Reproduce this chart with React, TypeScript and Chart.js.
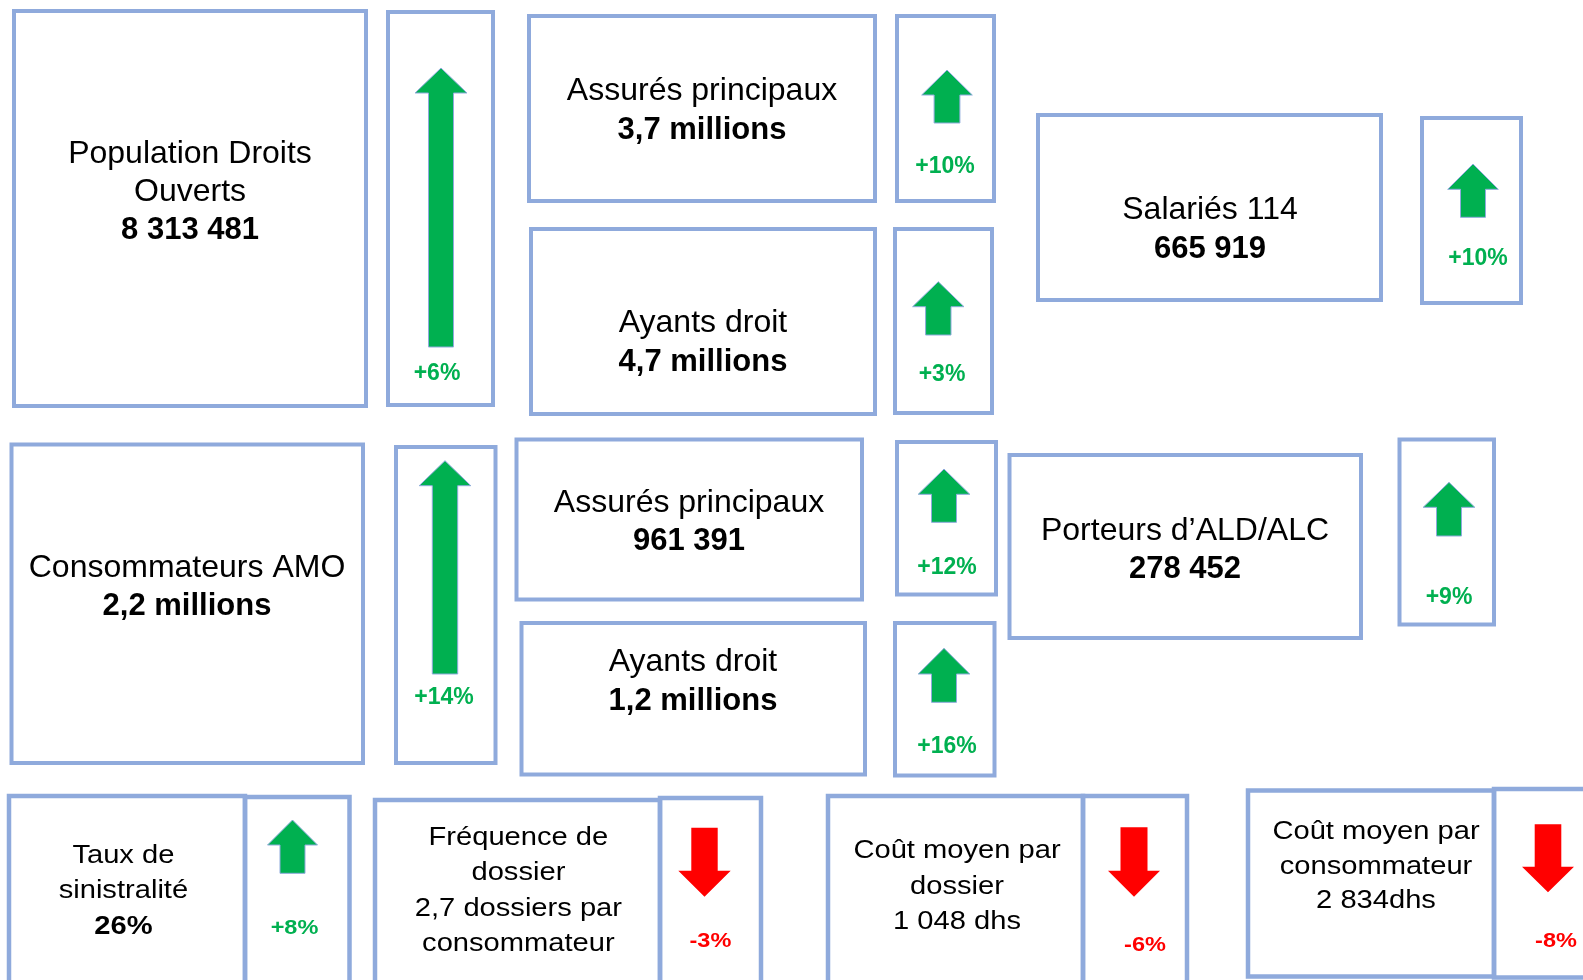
import React, { useEffect, useRef } from "react";
import { Chart, registerables } from "chart.js";

Chart.register(...registerables);

// ---------- DATA ----------
const cardTitles: string[][] = [
  ["Population Droits", "Ouverts"],
  ["Assurés principaux"],
  ["Ayants droit"],
  ["Salariés 114"],
  ["Consommateurs AMO"],
  ["Assurés principaux"],
  ["Ayants droit"],
  ["Porteurs d’ALD/ALC"],
  ["Taux de", "sinistralité"],
  ["Fréquence de", "dossier"],
  ["Coût moyen par", "dossier"],
  ["Coût moyen par", "consommateur"],
];

const cardValues: string[] = [
  "8 313 481",
  "3,7 millions",
  "4,7 millions",
  "665 919",
  "2,2 millions",
  "961 391",
  "1,2 millions",
  "278 452",
  "26%",
  "2,7 dossiers par\nconsommateur",
  "1 048 dhs",
  "2 834dhs",
];

const valueIsBold: boolean[] = [true, true, true, true, true, true, true, true, true, false, false, false];

const changes: number[] = [6, 10, 3, 10, 14, 12, 16, 9, 8, -3, -6, -8];

// ---------- LAYOUT (kept apart from the data) ----------
const cardBoxes: number[][] = [
  [14, 11, 366, 406],
  [529, 16, 875, 201],
  [531, 229, 875, 414],
  [1038, 115, 1381, 300],
  [11.5, 444.5, 363, 763],
  [516.5, 439.5, 862, 599.5],
  [521.5, 623, 865, 774.5],
  [1009.5, 455, 1361, 638],
  [9, 796, 245, 1000],
  [375, 800, 660, 1000],
  [828, 796, 1083, 1000],
  [1248, 790.5, 1494, 976.5],
];

const changeBoxes: number[][] = [
  [388, 12, 493, 405],
  [897, 16, 994, 201],
  [895, 229, 992, 413],
  [1422, 118, 1521, 303],
  [396, 447, 495.5, 763],
  [897, 442, 996, 594.5],
  [895, 623, 994.5, 775.5],
  [1399.5, 439.5, 1494, 624.5],
  [245, 797, 349.5, 1000],
  [660, 798, 761, 1000],
  [1083, 796, 1187, 1000],
  [1494, 789, 1600, 977.5],
];

// [centerX, firstBaseline, lineHeight]
const textAnchors: number[][] = [
  [190, 163, 38],
  [702, 100, 39],
  [703, 332, 39],
  [1210, 219, 38.5],
  [187, 577, 38],
  [689, 512, 38],
  [693, 671, 39],
  [1185, 540, 38.3],
  [123.4, 863, 35.3],
  [518.4, 845, 35.3],
  [957, 858, 35.5],
  [1376, 839, 34.7],
];

// [centerX, tailY, headBaseY, tipY, headHalfWidth, shaftHalfWidth]
const arrowGeoms: number[][] = [
  [441, 347, 93, 68, 26, 12.5],
  [947, 123, 95, 70, 25.3, 12.9],
  [938.3, 335, 306.7, 281.7, 25.7, 12.7],
  [1473, 217.3, 189.3, 164, 25.3, 12.5],
  [445, 674, 485.7, 460.7, 25.8, 12.7],
  [944, 522.3, 494.3, 469, 25.8, 12.5],
  [944, 702.3, 674, 648.3, 25.8, 12.5],
  [1449, 536, 507.3, 482.3, 25.8, 12.5],
  [292.5, 873.3, 845, 820, 25, 12.5],
  [704.5, 827.7, 870.7, 896.7, 26.2, 13.2],
  [1134, 827.3, 870.7, 896.7, 26, 13.5],
  [1548, 824.3, 866.7, 892.3, 26, 13.3],
];

// [centerX, baseline]
const labelAnchors: number[][] = [
  [437, 380],
  [945, 172.7],
  [942, 380.7],
  [1478, 265],
  [444, 704],
  [947, 574],
  [947, 753.3],
  [1449, 604],
  [294.5, 934],
  [710.4, 946.7],
  [1145, 950.7],
  [1556, 946.7],
];

const BORDER = "#8FAADC";
const UP = "#00B050";
const DOWN = "#FF0000";
const FONT = "'Liberation Sans', Arial, sans-serif";

const kpiPlugin = {
  id: "kpiCards",
  afterDraw(chart: any) {
    const ctx: CanvasRenderingContext2D = chart.ctx;
    const xs = chart.scales.x;
    const ys = chart.scales.y;
    const px = (v: number) => xs.getPixelForValue(v);
    const py = (v: number) => ys.getPixelForValue(v);

    const rect = (r: number[], lw: number) => {
      ctx.save();
      ctx.strokeStyle = BORDER;
      ctx.lineWidth = lw;
      ctx.lineJoin = "miter";
      ctx.strokeRect(px(r[0]), py(r[1]), px(r[2]) - px(r[0]), py(r[3]) - py(r[1]));
      ctx.restore();
    };

    const text = (s: string, cx: number, y: number, size: number, bold: boolean, color: string, hs: number) => {
      ctx.save();
      ctx.font = `${bold ? "bold " : ""}${size}px ${FONT}`;
      ctx.fillStyle = color;
      ctx.textAlign = "center";
      ctx.textBaseline = "alphabetic";
      ctx.translate(px(cx), py(y));
      ctx.scale(hs, 1);
      ctx.fillText(s, 0, 0);
      ctx.restore();
    };

    cardTitles.forEach((title, i) => {
      const bottomRow = i >= 8;
      const hs = bottomRow ? 1.12 : 1;
      const titleSize = bottomRow ? 26 : 32;
      const valueSize = bottomRow ? 26 : 31;
      const pctSize = bottomRow ? 21 : 23;
      const lw = bottomRow ? 4.5 : 4;

      rect(cardBoxes[i], lw);
      rect(changeBoxes[i], lw);

      const [cx, y0, lh] = textAnchors[i];
      let line = 0;
      title.forEach((t) => {
        text(t, cx, y0 + lh * line, titleSize, false, "#000000", hs);
        line++;
      });
      cardValues[i].split("\n").forEach((v) => {
        text(v, cx, y0 + lh * line, valueSize, valueIsBold[i], "#000000", hs);
        line++;
      });

      // arrow
      const v = changes[i];
      const color = v >= 0 ? UP : DOWN;
      const [ax, tail, headBase, tip, hh, sh] = arrowGeoms[i];
      ctx.save();
      ctx.beginPath();
      ctx.moveTo(px(ax - sh), py(tail));
      ctx.lineTo(px(ax - sh), py(headBase));
      ctx.lineTo(px(ax - hh), py(headBase));
      ctx.lineTo(px(ax), py(tip));
      ctx.lineTo(px(ax + hh), py(headBase));
      ctx.lineTo(px(ax + sh), py(headBase));
      ctx.lineTo(px(ax + sh), py(tail));
      ctx.closePath();
      ctx.fillStyle = color;
      ctx.fill();
      if (v >= 0) {
        ctx.strokeStyle = BORDER;
        ctx.lineWidth = 1;
        ctx.stroke();
      }
      ctx.restore();

      const [lx, ly] = labelAnchors[i];
      const label = (v > 0 ? "+" : "") + v + "%";
      text(label, lx, ly, pctSize, true, color, hs);
    });
  },
};

export default function App() {
  const canvasRef = useRef<HTMLCanvasElement | null>(null);

  useEffect(() => {
    document.body.style.margin = "0";
    const canvas = canvasRef.current;
    if (!canvas) return;
    const chart = new Chart(canvas, {
      type: "scatter",
      data: {
        datasets: [
          {
            label: "variation",
            data: labelAnchors.map((a, i) => ({ x: a[0], y: a[1], v: changes[i] })) as any,
            pointRadius: 0,
            pointHoverRadius: 0,
          },
        ],
      },
      options: {
        animation: false,
        responsive: false,
        devicePixelRatio: 1,
        layout: { padding: 0 },
        plugins: { legend: { display: false }, tooltip: { enabled: false } },
        events: [],
        scales: {
          x: { type: "linear", min: 0, max: 1583, display: false },
          y: { type: "linear", min: 0, max: 980, reverse: true, display: false },
        },
      },
      plugins: [kpiPlugin],
    });
    return () => chart.destroy();
  }, []);

  return (
    <div style={{ width: 1583, height: 980, background: "#ffffff", overflow: "hidden" }}>
      <canvas ref={canvasRef} width={1583} height={980} style={{ display: "block" }} />
    </div>
  );
}
